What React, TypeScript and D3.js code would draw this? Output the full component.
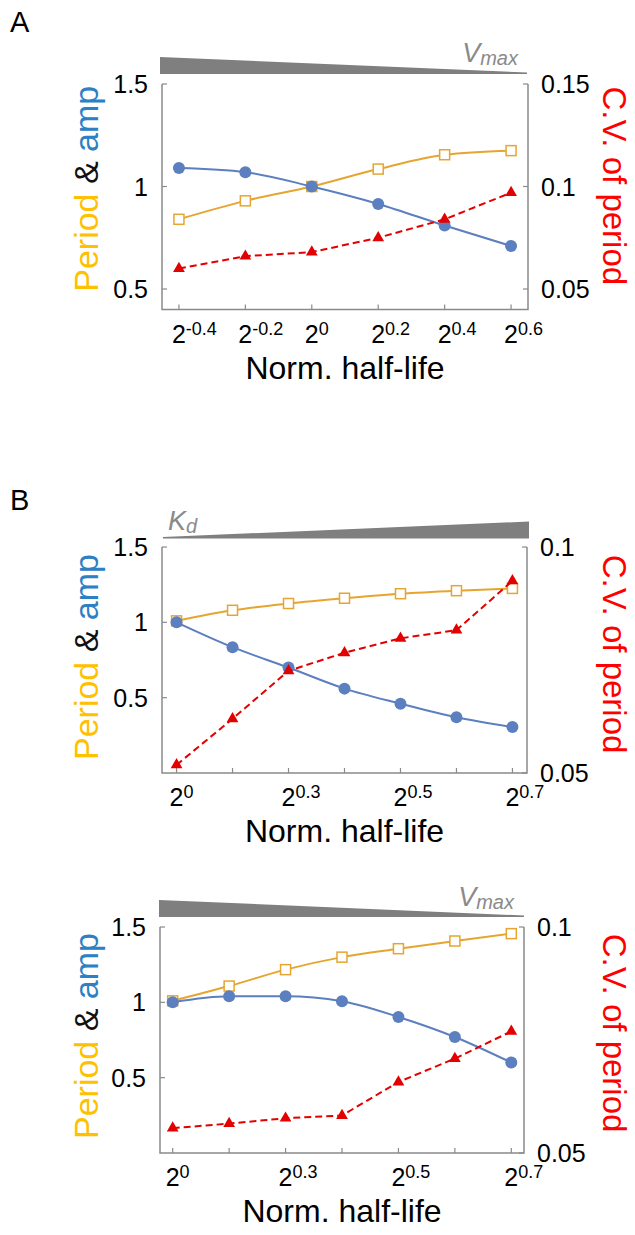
import React, { useRef, useEffect } from 'react';
import * as d3 from 'd3';

const W = 635;
const H = 1235;

// A: varying Vmax
const xExpA = ['-0.4', '-0.2', '0', '0.2', '0.4', '0.6'];
const periodA = [0.84, 0.93, 1.0, 1.085, 1.155, 1.175];
const ampA = [1.09, 1.07, 1.0, 0.915, 0.81, 0.71];
const cvA = [0.060, 0.066, 0.068, 0.075, 0.084, 0.097];

// B (top): varying Kd
const xExpB = ['0', '', '0.3', '', '0.5', '', '0.7'];
const periodB1 = [1.01, 1.08, 1.125, 1.16, 1.19, 1.21, 1.225];
const ampB1 = [1.0, 0.835, 0.70, 0.56, 0.46, 0.37, 0.305];
const cvB1 = [0.0518, 0.062, 0.0726, 0.0766, 0.0798, 0.0816, 0.0925];

// B (bottom): varying Vmax
const periodB2 = [1.01, 1.108, 1.217, 1.30, 1.356, 1.407, 1.456];
const ampB2 = [1.0, 1.04, 1.04, 1.007, 0.903, 0.77, 0.60];
const cvB2 = [0.0555, 0.0565, 0.0577, 0.0583, 0.0657, 0.0709, 0.0769];

const leftTicks = [0.5, 1, 1.5];
const rightTicksA = [0.05, 0.1, 0.15];
const rightTicksB = [0.05, 0.1];

const FONT = '"Liberation Sans", Arial, sans-serif';
const ORANGE = '#e6a530';
const BLUE = '#5b7fbf';
const RED = '#e30000';
const GREY = '#8a8a8a';

function drawPanel(svg, p) {
  const g = svg.append('g');
  const n = p.period.length;
  const x = d3.scaleLinear().domain([-p.pad, n - 1 + p.pad]).range([p.left, p.right]);
  const y = d3.scaleLinear().domain(p.yDomain).range([p.bottom, p.top]);
  const yr = d3.scaleLinear().domain(p.rDomain).range([p.bottom, p.top]);
  const idx = d3.range(n);

  // wedge (parameter gradient)
  const wTop = p.top - p.wedgeGap - 17;
  const wBot = p.top - p.wedgeGap;
  const wx0 = p.left - 2 + p.wedgeShift;
  const wx1 = p.right - 1 + p.wedgeShift;
  const pts = p.wedgeDir === 'down'
    ? [[wx0, wTop], [wx1, wBot - 1.5], [wx1, wBot], [wx0, wBot]]
    : [[wx0, wBot - 1.5], [wx1, wTop], [wx1, wBot], [wx0, wBot]];
  g.append('path').attr('d', d3.line()(pts) + 'Z').attr('fill', '#7f7f7f');

  const wl = g.append('text')
    .attr('font-family', FONT).attr('font-style', 'italic').attr('fill', GREY)
    .attr('y', wTop + p.labelDy)
    .attr('x', p.wedgeDir === 'down' ? p.right - 10 : p.left + 6)
    .attr('text-anchor', p.wedgeDir === 'down' ? 'end' : 'start');
  wl.append('tspan').attr('font-size', 27).text(p.wedgeSym);
  wl.append('tspan').attr('font-size', 20).attr('dy', 3).text(p.wedgeSub);

  // axes (open top)
  g.append('path')
    .attr('d', `M${p.left},${p.top}V${p.bottom}H${p.right}V${p.top}`)
    .attr('fill', 'none').attr('stroke', GREY).attr('stroke-width', 1.5);

  leftTicks.forEach(t => {
    g.append('line').attr('x1', p.left).attr('x2', p.left + 5)
      .attr('y1', y(t)).attr('y2', y(t)).attr('stroke', GREY).attr('stroke-width', 1.2);
    g.append('text').attr('x', p.left - 14).attr('y', y(t)).attr('dy', '0.36em')
      .attr('text-anchor', 'end').attr('font-family', FONT).attr('font-size', 25)
      .text(d3.format('~g')(t));
  });
  p.rTicks.forEach(t => {
    g.append('line').attr('x1', p.right).attr('x2', p.right - 5)
      .attr('y1', yr(t)).attr('y2', yr(t)).attr('stroke', GREY).attr('stroke-width', 1.2);
    g.append('text').attr('x', p.right + 13).attr('y', yr(t)).attr('dy', '0.36em')
      .attr('font-family', FONT).attr('font-size', 25)
      .text(d3.format('~g')(t));
  });
  idx.forEach(i => {
    g.append('line').attr('x1', x(i)).attr('x2', x(i))
      .attr('y1', p.bottom).attr('y2', p.bottom - 5).attr('stroke', GREY).attr('stroke-width', 1.2);
    if (p.labels[i] === '') return;
    const t = g.append('text').attr('x', x(i) - 7).attr('y', p.bottom + 33)
      .attr('font-family', FONT).attr('font-size', 25);
    t.append('tspan').text('2');
    t.append('tspan').attr('font-size', 18).attr('dy', -8).text(p.labels[i]);
  });

  g.append('text').attr('x', (p.left + p.right) / 2).attr('y', p.bottom + 69)
    .attr('text-anchor', 'middle').attr('font-family', FONT).attr('font-size', 32)
    .text('Norm. half-life');

  const cy = (p.top + p.bottom) / 2;
  const yl = g.append('text')
    .attr('transform', `translate(98,${cy - p.labelShift}) rotate(-90)`)
    .attr('text-anchor', 'middle').attr('font-family', FONT).attr('font-size', 34);
  yl.append('tspan').attr('fill', '#ffc000').text('Period');
  yl.append('tspan').attr('fill', '#111').text(' & ');
  yl.append('tspan').attr('fill', '#2c80c4').text('amp');

  g.append('text')
    .attr('transform', `translate(603,${cy - p.labelShift - 3}) rotate(90)`)
    .attr('text-anchor', 'middle').attr('font-family', FONT).attr('font-size', 33)
    .attr('fill', '#ff0000').text('C.V. of period');

  // series
  const periodLine = d3.line().x(i => x(i)).y(i => y(p.period[i])).curve(d3.curveMonotoneX);
  const ampLine = d3.line().x(i => x(i)).y(i => y(p.amp[i])).curve(d3.curveMonotoneX);
  const cvLine = d3.line().x(i => x(i)).y(i => yr(p.cv[i]));

  g.append('path').datum(idx).attr('d', periodLine)
    .attr('fill', 'none').attr('stroke', ORANGE).attr('stroke-width', 2);
  g.selectAll(null).data(idx).enter().append('rect')
    .attr('x', i => x(i) - 5).attr('y', i => y(p.period[i]) - 5)
    .attr('width', 10).attr('height', 10)
    .attr('fill', '#fff').attr('stroke', ORANGE).attr('stroke-width', 1.5);

  g.append('path').datum(idx).attr('d', ampLine)
    .attr('fill', 'none').attr('stroke', BLUE).attr('stroke-width', 2);
  g.selectAll(null).data(idx).enter().append('circle')
    .attr('cx', i => x(i)).attr('cy', i => y(p.amp[i])).attr('r', 6)
    .attr('fill', BLUE);

  g.append('path').datum(idx).attr('d', cvLine)
    .attr('fill', 'none').attr('stroke', RED).attr('stroke-width', 2)
    .attr('stroke-dasharray', '7,4');
  const tri = d3.symbol(d3.symbolTriangle, 60);
  g.selectAll(null).data(idx).enter().append('path')
    .attr('transform', i => `translate(${x(i)},${yr(p.cv[i])})`)
    .attr('d', tri).attr('fill', RED);
}

export default function App() {
  const svgRef = useRef(null);

  useEffect(() => {
    if (!svgRef.current) return;
    const svg = d3.select(svgRef.current);
    svg.selectAll('*').remove();

    svg.append('text').attr('x', 10).attr('y', 32).attr('font-family', FONT)
      .attr('font-size', 29).text('A');
    svg.append('text').attr('x', 10).attr('y', 510).attr('font-family', FONT)
      .attr('font-size', 29).text('B');

    drawPanel(svg, {
      left: 162, right: 528, top: 84, bottom: 309.5, pad: 0.255,
      yDomain: [0.4, 1.5], rDomain: [0.04, 0.15], rTicks: rightTicksA,
      labels: xExpA, period: periodA, amp: ampA, cv: cvA,
      wedgeDir: 'down', wedgeSym: 'V', wedgeSub: 'max', wedgeGap: 10, wedgeShift: 0,
      labelDy: 5, labelShift: 8,
    });
    drawPanel(svg, {
      left: 162, right: 527, top: 547, bottom: 773, pad: 0.26,
      yDomain: [0, 1.5], rDomain: [0.05, 0.1], rTicks: rightTicksB,
      labels: xExpB, period: periodB1, amp: ampB1, cv: cvB1,
      wedgeDir: 'up', wedgeSym: 'K', wedgeSub: 'd', wedgeGap: 8.5, wedgeShift: 3,
      labelDy: 8, labelShift: 3,
    });
    drawPanel(svg, {
      left: 160, right: 524, top: 927, bottom: 1153, pad: 0.225,
      yDomain: [0, 1.5], rDomain: [0.05, 0.1], rTicks: rightTicksB,
      labels: xExpB, period: periodB2, amp: ampB2, cv: cvB2,
      wedgeDir: 'down', wedgeSym: 'V', wedgeSub: 'max', wedgeGap: 10, wedgeShift: 1,
      labelDy: 6, labelShift: 4,
    });
  }, []);

  return (
    <svg
      ref={svgRef}
      width={W}
      height={H}
      viewBox={`0 0 ${W} ${H}`}
      style={{ position: 'absolute', left: 0, top: 0, background: '#fff' }}
    />
  );
}
